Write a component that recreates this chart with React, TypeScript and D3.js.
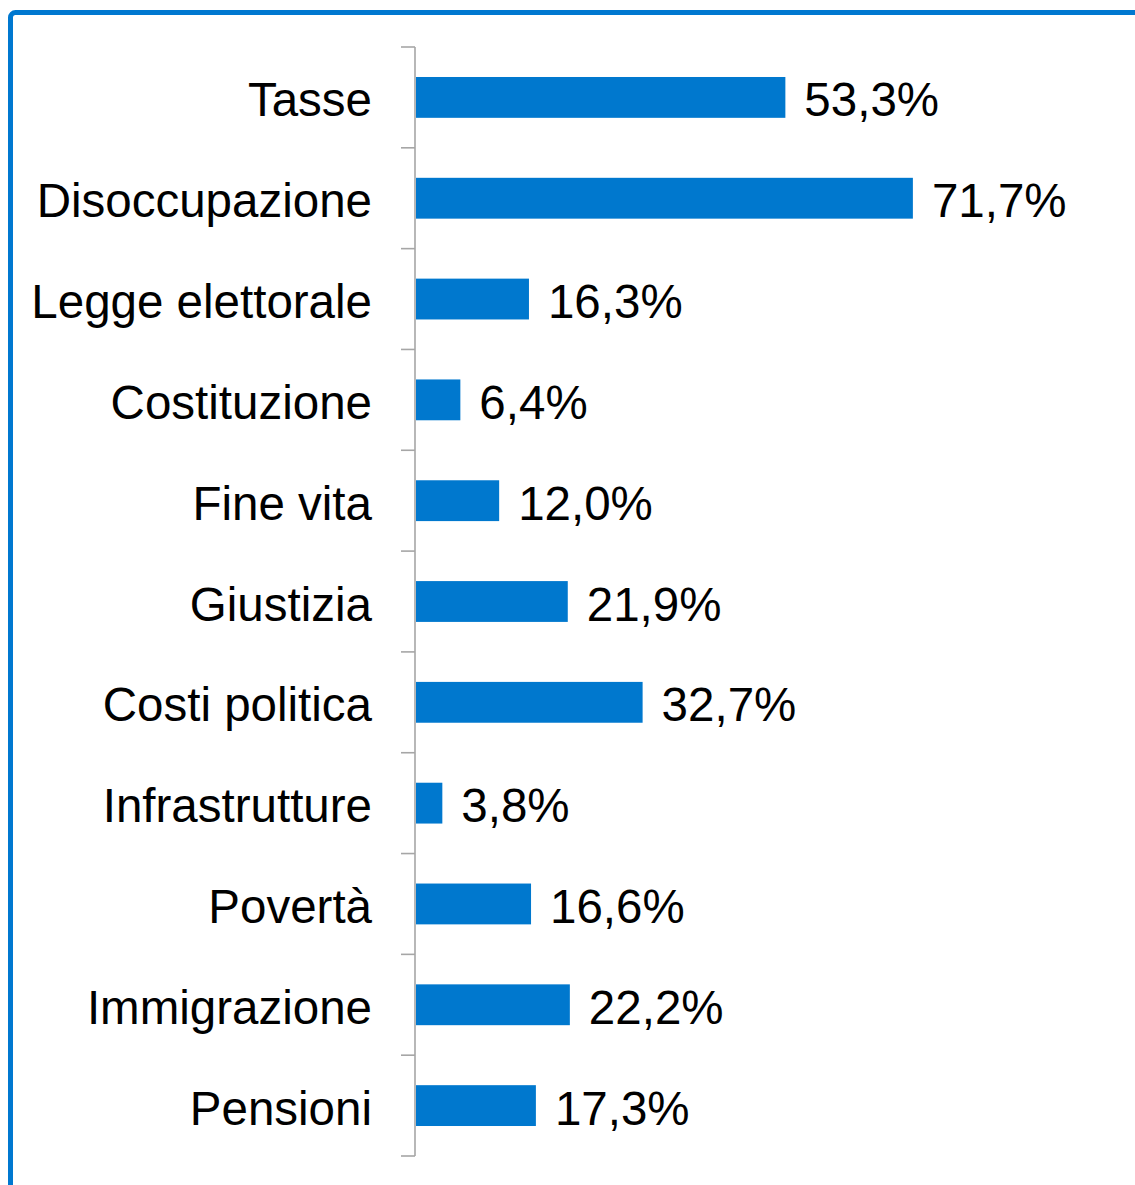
import React from "react";
import * as d3 from "d3";

const categories = [
  "Tasse",
  "Disoccupazione",
  "Legge elettorale",
  "Costituzione",
  "Fine vita",
  "Giustizia",
  "Costi politica",
  "Infrastrutture",
  "Povertà",
  "Immigrazione",
  "Pensioni",
];
const values = [53.3, 71.7, 16.3, 6.4, 12.0, 21.9, 32.7, 3.8, 16.6, 22.2, 17.3];

const W = 1135;
const H = 1185;
const BLUE = "#0078CE";
const FONT = "'Liberation Sans', Arial, sans-serif";

export default function App() {
  const y = d3.scaleBand<string>().domain(categories).range([47, 1156]).paddingInner(0).paddingOuter(0);
  const x = d3.scaleLinear().domain([0, 100]).range([416, 1109]);
  const barH = y.bandwidth() * 0.405;
  const fmt = (v: number) => v.toFixed(1).replace(".", ",") + "%";
  const boundaries = categories.map((c) => y(c) as number).concat([1156]);

  return (
    <svg width={W} height={H} style={{ position: "absolute", left: 0, top: 0, background: "#fff" }}>
      <rect x={10.5} y={12.5} width={1300} height={1400} rx={5} fill="none" stroke="#0078D0" strokeWidth={5} />
      {categories.map((c, i) => {
        const cy = (y(c) as number) + y.bandwidth() / 2;
        return (
          <g key={c}>
            <rect x={x(0)} y={cy - barH / 2} width={x(values[i]) - x(0)} height={barH} fill={BLUE} />
            <text x={372} y={cy + 19} textAnchor="end" fontFamily={FONT} fontSize={47.5} fill="#000">
              {c}
            </text>
            <text x={x(values[i]) + 19} y={cy + 19} textAnchor="start" fontFamily={FONT} fontSize={47.5} fill="#000">
              {fmt(values[i])}
            </text>
          </g>
        );
      })}
      <line x1={415} x2={415} y1={47} y2={1156} stroke="#A6A6A6" strokeWidth={1.6} />
      {boundaries.map((b, i) => (
        <line key={i} x1={401} x2={415} y1={b} y2={b} stroke="#A6A6A6" strokeWidth={1.6} />
      ))}
    </svg>
  );
}
